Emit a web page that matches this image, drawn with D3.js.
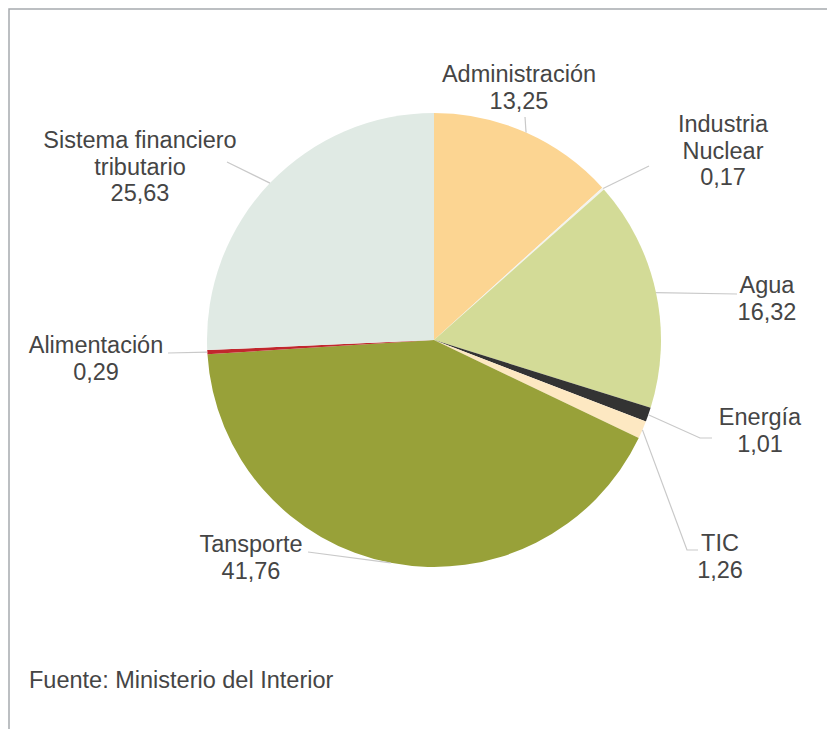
<!DOCTYPE html>
<html>
<head>
<meta charset="utf-8">
<script src="https://cdn.jsdelivr.net/npm/d3@7"></script>
<style>
  html, body { margin: 0; padding: 0; background: #fff; }
  svg { display: block; }
  text { font-family: "Liberation Sans", Arial, sans-serif; fill: #454545; }
</style>
</head>
<body>
<svg id="chart" width="827" height="729"></svg>
<script>
// Investment share by sector (%), clockwise from 12 o'clock
const categories = ["Administración", "Industria Nuclear", "Agua", "Energía", "TIC", "Tansporte", "Alimentación", "Sistema financiero tributario"];
const values = [13.25, 0.17, 16.32, 1.01, 1.26, 41.76, 0.29, 25.63];
const valueLabels = ["13,25", "0,17", "16,32", "1,01", "1,26", "41,76", "0,29", "25,63"];
const labelLines = [["Administración"], ["Industria", "Nuclear"], ["Agua"], ["Energía"], ["TIC"], ["Tansporte"], ["Alimentación"], ["Sistema financiero", "tributario"]];
const colors = ["#fcd592", "#f3f3ee", "#d3db97", "#333333", "#fde8c2", "#98a139", "#c1272d", "#e0eae4"];
const source = "Fuente: Ministerio del Interior";

// Label placement: text centre x, first baseline y, and leader elbow points
const labelLayout = [
  { x: 519, y: 82,  leader: [[525, 117]] },
  { x: 723, y: 132, leader: [[649, 166]] },
  { x: 767, y: 293, leader: [[737, 294]] },
  { x: 760, y: 425, leader: [[700, 438], [712, 438]] },
  { x: 720, y: 551, leader: [[687, 550], [698, 550]] },
  { x: 251, y: 552, leader: [[308, 552]] },
  { x: 96,  y: 353, leader: [[168, 353]] },
  { x: 140, y: 148, leader: [[227, 162]] }
];

const W = 827, H = 729;
const cx = 434, cy = 340, R = 227;
const fontSize = 23.5, lineH = 26.5;

const svg = d3.select("#chart");

// Frame (top and left edges)
svg.append("path")
  .attr("d", `M9,${H} L9,9 L${W},9`)
  .attr("fill", "none")
  .attr("stroke", "#a6aaae")
  .attr("stroke-width", 1.5);

const data = categories.map((c, i) => ({ name: c, value: values[i], i }));

const pie = d3.pie().value(d => d.value).sort(null);
const arc = d3.arc().innerRadius(0).outerRadius(R);
const arcs = pie(data);

const g = svg.append("g").attr("transform", `translate(${cx},${cy})`);

g.selectAll("path.slice")
  .data(arcs)
  .join("path")
  .attr("class", "slice")
  .attr("d", arc)
  .attr("fill", d => colors[d.data.i]);

// Leader lines from slice mid-angle on the rim to the label
const lineGen = d3.line();
arcs.forEach(a => {
  const mid = (a.startAngle + a.endAngle) / 2;
  const start = [cx + R * Math.sin(mid), cy - R * Math.cos(mid)];
  const pts = [start].concat(labelLayout[a.data.i].leader);
  svg.append("path")
    .attr("d", lineGen(pts))
    .attr("fill", "none")
    .attr("stroke", "#c9c9c9")
    .attr("stroke-width", 1.2);
});

// Labels: category name lines followed by the value
arcs.forEach(a => {
  const i = a.data.i;
  const lay = labelLayout[i];
  const lines = labelLines[i].concat([valueLabels[i]]);
  const t = svg.append("text")
    .attr("text-anchor", "middle")
    .attr("font-size", fontSize);
  lines.forEach((ln, k) => {
    t.append("tspan")
      .attr("x", lay.x)
      .attr("y", lay.y + k * lineH)
      .text(ln);
  });
});

svg.append("text")
  .attr("x", 29)
  .attr("y", 688)
  .attr("font-size", fontSize)
  .text(source);
</script>
</body>
</html>
